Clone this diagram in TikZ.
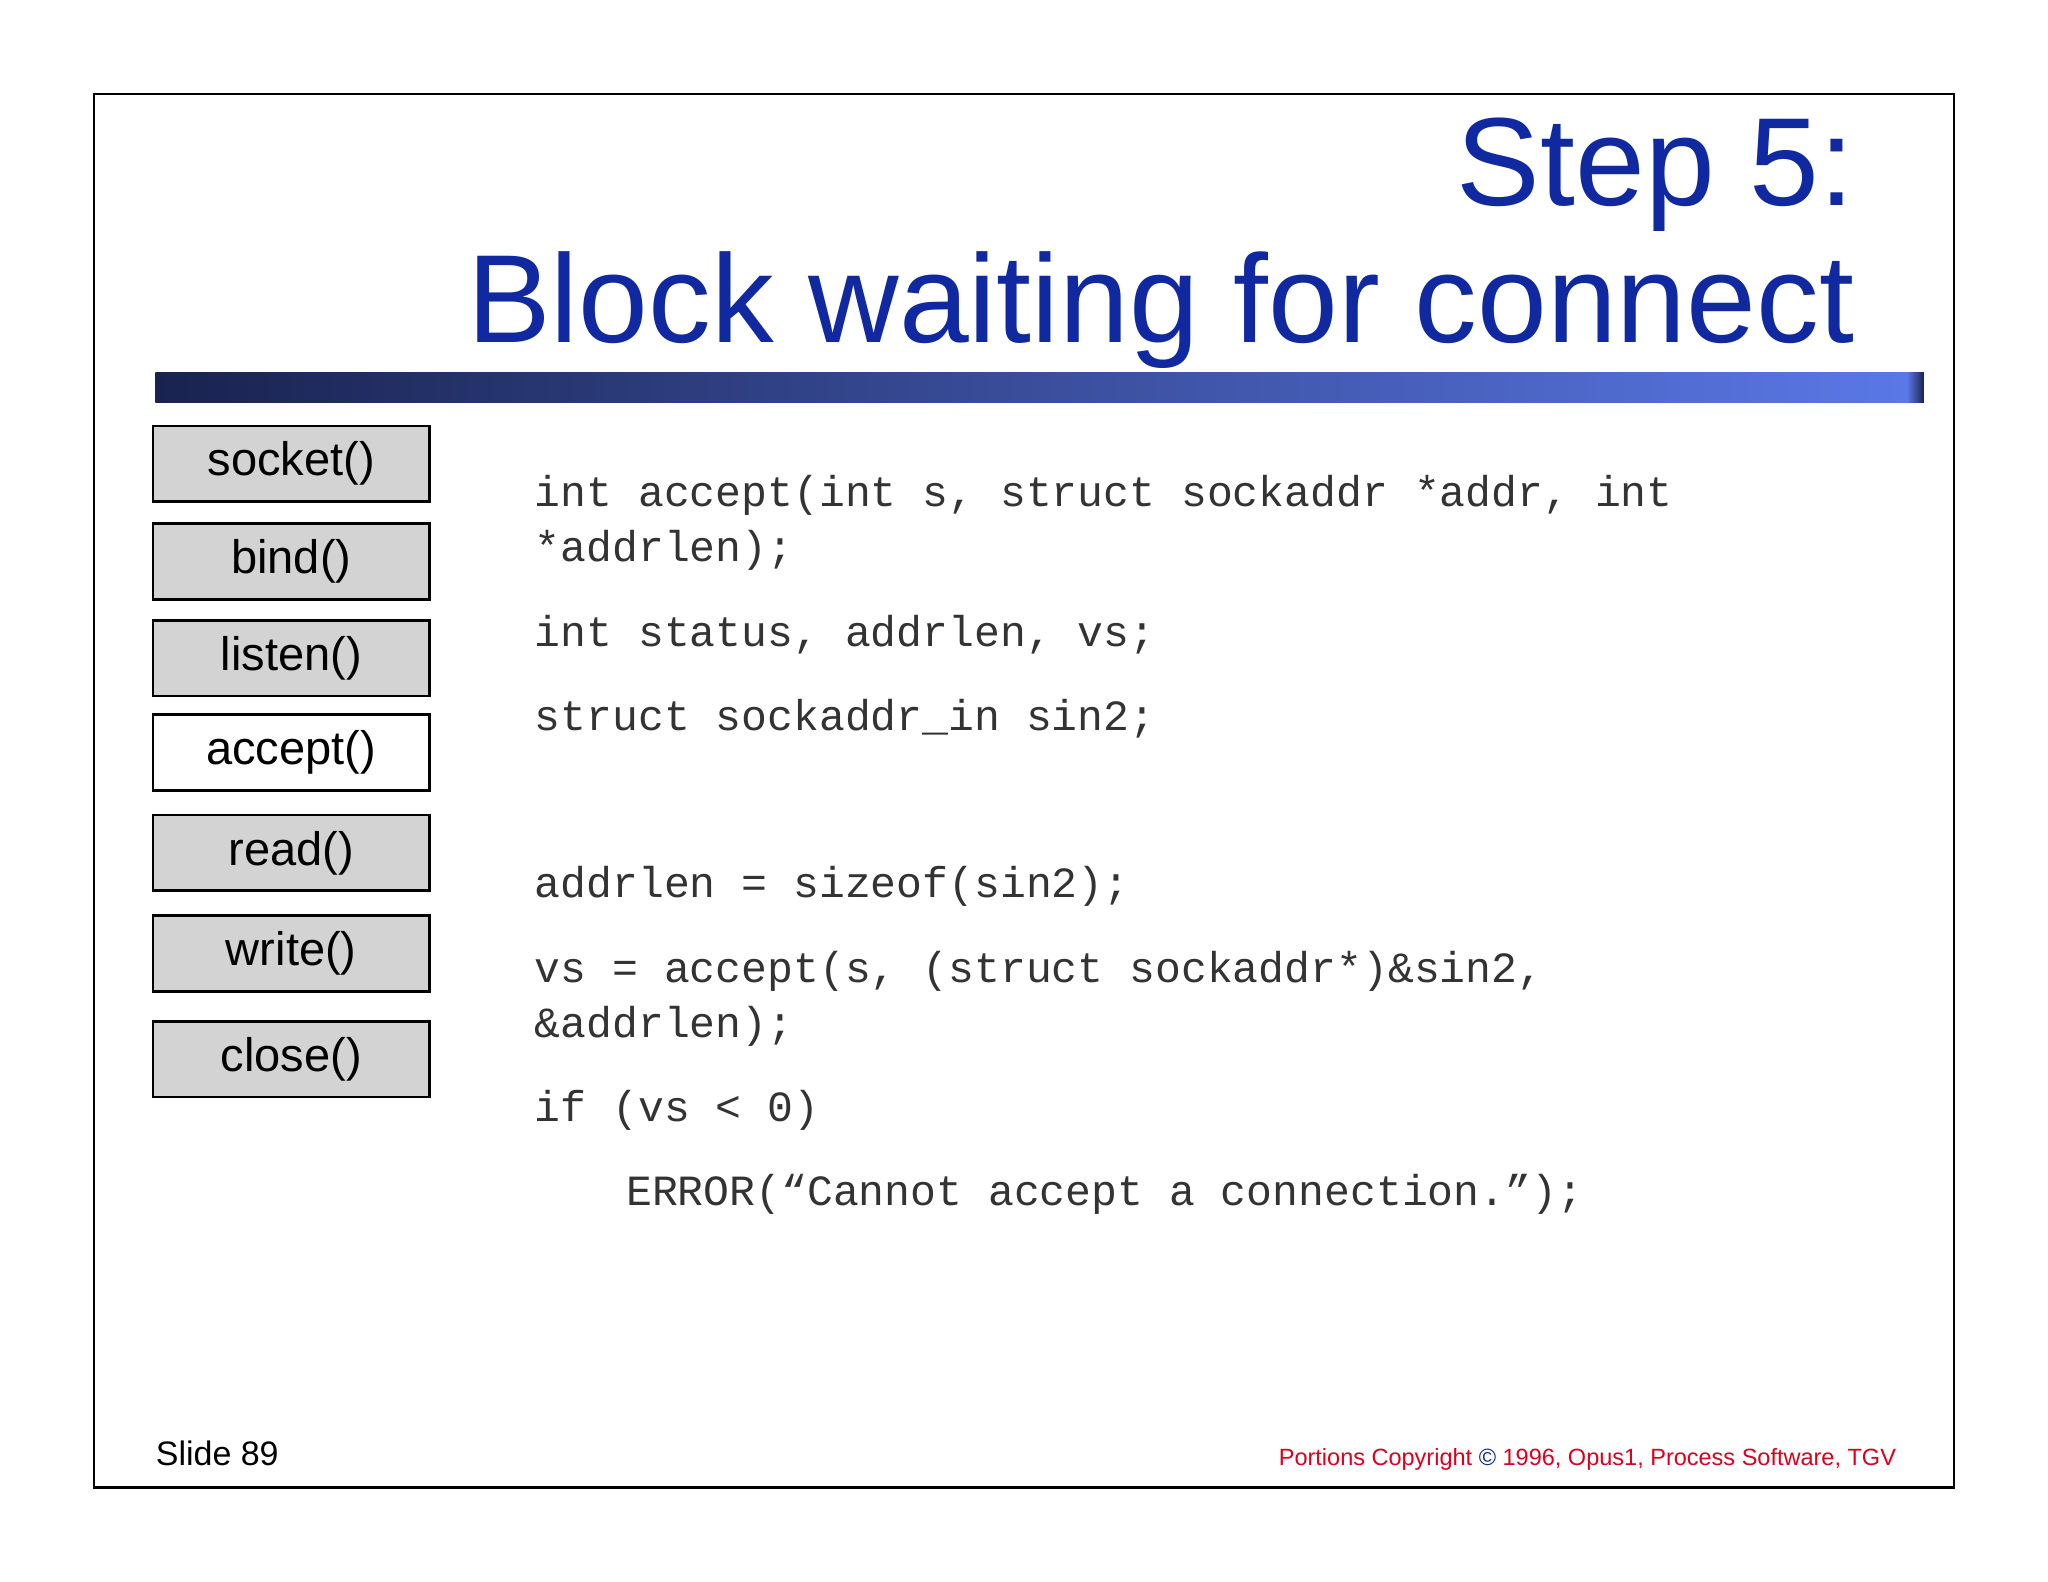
\documentclass[tikz,border=0pt]{standalone}
\usepackage{fontspec}
\setmainfont{Liberation Sans}
\newfontfamily\codefont{Liberation Mono}
\definecolor{titleblue}{RGB}{16,40,160}
\definecolor{bardark}{RGB}{25,35,80}
\definecolor{barlight}{RGB}{90,120,230}
\definecolor{btngray}{RGB}{211,211,211}
\definecolor{copyred}{RGB}{220,0,30}
\begin{document}
\begin{tikzpicture}[x=0.5pt,y=-0.5pt,
  btn/.style={draw=black,line width=1pt,fill=btngray,minimum width=106pt,minimum height=29pt,inner sep=0pt,font=\fontsize{18}{20}\selectfont},
  code/.style={anchor=base west,inner sep=0pt,font=\codefont\fontsize{16.5}{18}\selectfont,text=black!80},
  title/.style={anchor=base east,inner sep=0pt,text=titleblue,font=\fontsize{48}{52}\selectfont}]
\useasboundingbox (0,0) rectangle (1568,1211);
\draw[line width=1pt] (72,72) rectangle (1496,1139);
\node[title] (t1) at (1420,157) {Step 5:};
\node[title] (t2) at (1420,262) {Block waiting for connect};
\shade[left color=bardark,right color=barlight] (119,285) rectangle (1460,308);
\shade[left color=barlight,right color=bardark] (1460,285) rectangle (1473,308);
\node[btn] (b1) at (223,355) {socket()};
\node[btn] (b2) at (223,430) {bind()};
\node[btn] (b3) at (223,504) {listen()};
\node[btn,fill=white] (b4) at (223,576) {accept()};
\node[btn] (b5) at (223,653) {read()};
\node[btn] (b6) at (223,730) {write()};
\node[btn] (b7) at (223,811) {close()};
\node[code] (c1) at (409,388) {int accept(int s, struct sockaddr *addr, int};
\node[code] (c2) at (409,430) {*addrlen);};
\node[code] (c3) at (409,495) {int status, addrlen, vs;};
\node[code] (c4) at (409,559) {struct sockaddr\_in sin2;};
\node[code] (c5) at (409,687) {addrlen = sizeof(sin2);};
\node[code] (c6) at (409,752) {vs = accept(s, (struct sockaddr*)\&sin2,};
\node[code] (c7) at (409,794) {\&addrlen);};
\node[code] (c8) at (409,859) {if (vs < 0)};
\node[code] (c9) at (479,923) {ERROR(“Cannot accept a connection.”);};
\node[anchor=base west,inner sep=0pt,font=\fontsize{13}{15}\selectfont] (s) at (119,1122) {Slide 89};
\node[anchor=base east,inner sep=0pt,text=copyred,font=\fontsize{9}{11}\selectfont] (cp) at (1452,1122) {Portions Copyright \textcolor{titleblue}{©} 1996, Opus1, Process Software, TGV};
\end{tikzpicture}
\end{document}
